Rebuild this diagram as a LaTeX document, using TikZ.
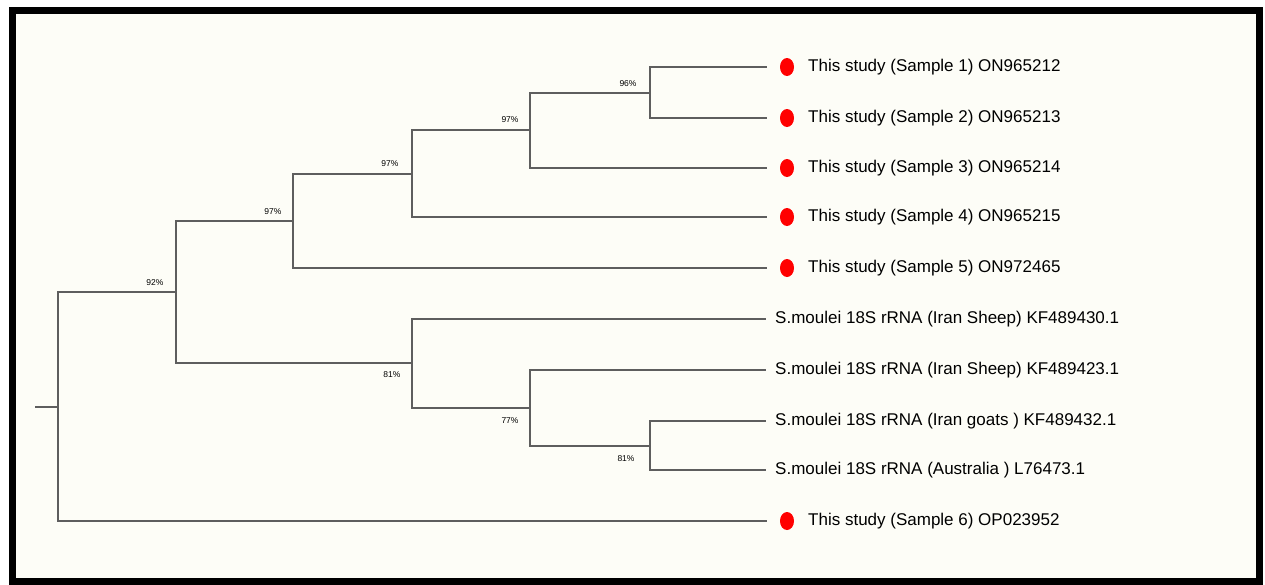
\documentclass[tikz,border=0pt]{standalone}
\usepackage{fontspec}
\setmainfont{Liberation Sans}
\usetikzlibrary{shapes.geometric}
\definecolor{paper}{HTML}{FDFDF7}
\definecolor{twig}{HTML}{5E5E5E}
\begin{document}
\begin{tikzpicture}
[x=1pt,y=-1pt,%
  branch/.style={draw=twig,line width=1.6pt},%
  dot/.style={shape=ellipse,fill=red,inner sep=0pt,minimum width=14pt,minimum height=18pt},%
  leaf/.style={anchor=west,inner sep=0pt,font=\fontsize{17}{20}\selectfont},%
  pct/.style={inner sep=0pt,font=\fontsize{8.5}{9}\selectfont}]
\useasboundingbox (0,0) rectangle (1265,584);
\fill[white] (0,0) rectangle (1265,584);
\fill[paper] (12.5,10) rectangle (1259,581.5);
\draw[line width=7pt] (12.5,10) rectangle (1259,581.5);
% inner nodes
\coordinate (stub) at (35,407);
\coordinate (root) at (58,407);
\coordinate (nA) at (176,292);
\coordinate (nB) at (293,221);
\coordinate (nC) at (412,174);
\coordinate (nD) at (530,130);
\coordinate (nE) at (650,93);
\coordinate (nF) at (412,363);
\coordinate (nG) at (530,408);
\coordinate (nH) at (650,446);
% study samples
\foreach \n/\y/\txt in {1/67/{This study (Sample 1) ON965212},
                        2/118/{This study (Sample 2) ON965213},
                        3/168/{This study (Sample 3) ON965214},
                        4/217/{This study (Sample 4) ON965215},
                        5/268/{This study (Sample 5) ON972465},
                        6/521/{This study (Sample 6) OP023952}}{
  \coordinate (t\n) at (767,\y);
  \node[dot] (d\n) at (787,\y) {};
  \node[leaf] (s\n) at (808,\y) {\txt};
}
% reference sequences
\foreach \n/\y/\txt in {1/319/{S.moulei 18S rRNA (Iran Sheep) KF489430.1},
                        2/370/{S.moulei 18S rRNA (Iran Sheep) KF489423.1},
                        3/421/{S.moulei 18S rRNA (Iran goats ) KF489432.1},
                        4/470/{S.moulei 18S rRNA (Australia ) L76473.1}}{
  \coordinate (m\n) at (766,\y);
  \node[leaf] (r\n) at (775,\y) {\txt};
}
% branches
\draw[branch] (stub) -- (root);
\draw[branch] (root) |- (nA);
\draw[branch] (root) |- (t6);
\draw[branch] (nA) |- (nB);
\draw[branch] (nA) |- (nF);
\draw[branch] (nB) |- (nC);
\draw[branch] (nB) |- (t5);
\draw[branch] (nC) |- (nD);
\draw[branch] (nC) |- (t4);
\draw[branch] (nD) |- (nE);
\draw[branch] (nD) |- (t3);
\draw[branch] (nE) |- (t1);
\draw[branch] (nE) |- (t2);
\draw[branch] (nF) |- (m1);
\draw[branch] (nF) |- (nG);
\draw[branch] (nG) |- (m2);
\draw[branch] (nG) |- (nH);
\draw[branch] (nH) |- (m3);
\draw[branch] (nH) |- (m4);
% bootstrap values
\node[pct] (pA) at ([shift={(-21,-9)}]nA) {92\%};
\node[pct] (pB) at ([shift={(-20,-9)}]nB) {97\%};
\node[pct] (pC) at ([shift={(-22,-10)}]nC) {97\%};
\node[pct] (pD) at ([shift={(-20,-10)}]nD) {97\%};
\node[pct] (pE) at ([shift={(-22,-9.5)}]nE) {96\%};
\node[pct] (pF) at ([shift={(-20,12)}]nF) {81\%};
\node[pct] (pG) at ([shift={(-20,12.5)}]nG) {77\%};
\node[pct] (pH) at ([shift={(-24,12.5)}]nH) {81\%};
\end{tikzpicture}
\end{document}
